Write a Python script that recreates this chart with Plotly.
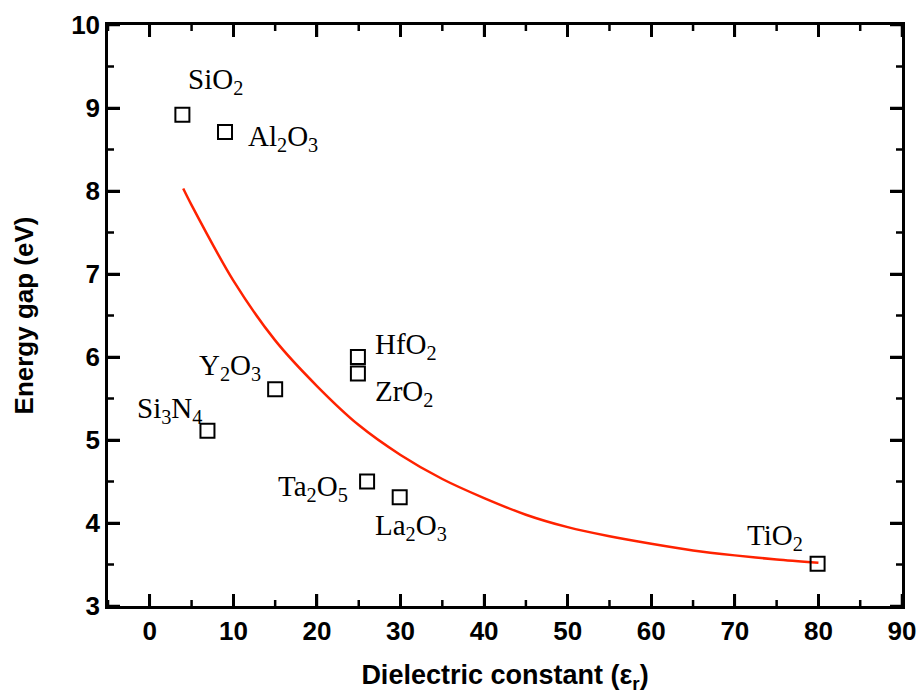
import plotly.graph_objects as go

# Oxide data points: dielectric constant vs band gap
materials = ["SiO<sub>2</sub>", "Al<sub>2</sub>O<sub>3</sub>", "Si<sub>3</sub>N<sub>4</sub>",
             "Y<sub>2</sub>O<sub>3</sub>", "HfO<sub>2</sub>", "ZrO<sub>2</sub>",
             "Ta<sub>2</sub>O<sub>5</sub>", "La<sub>2</sub>O<sub>3</sub>", "TiO<sub>2</sub>"]
k_values = [3.9, 9.0, 6.9, 15.0, 24.9, 24.9, 26.0, 29.9, 79.9]
gap_values = [8.92, 8.71, 5.11, 5.61, 6.0, 5.8, 4.5, 4.31, 3.51]

# Label placement (data coords) and anchors
label_x = [4.3, 11.5, 6.5, 13.6, 26.7, 26.7, 23.9, 26.7, 71.2]
label_y = [9.33, 8.64, 5.36, 5.88, 6.13, 5.57, 4.42, 3.95, 3.83]
label_anchor = ["left", "left", "right", "right", "left", "left", "right", "left", "left"]

# Red trend curve
curve_x = [4, 5, 10, 15, 20, 25, 30, 35, 40, 45, 50, 55, 60, 65, 70, 75, 80]
curve_y = [8.03, 7.83, 6.92, 6.2, 5.65, 5.18, 4.82, 4.53, 4.30, 4.10, 3.95, 3.84, 3.75, 3.67, 3.61, 3.56, 3.52]

# Axis ranges and tick positions
X_RANGE = [-5, 90]
Y_RANGE = [3, 10]
x_major = [0, 10, 20, 30, 40, 50, 60, 70, 80, 90]
x_minor = [-5, 5, 15, 25, 35, 45, 55, 65, 75, 85]
y_major = [3, 4, 5, 6, 7, 8, 9, 10]
y_minor = [3.5, 4.5, 5.5, 6.5, 7.5, 8.5, 9.5]

W, H = 919, 694
M = dict(l=108, r=17, t=25, b=88)
plot_w = W - M["l"] - M["r"]
plot_h = H - M["t"] - M["b"]
x_per_px = (X_RANGE[1] - X_RANGE[0]) / plot_w
y_per_px = (Y_RANGE[1] - Y_RANGE[0]) / plot_h

fig = go.Figure()
fig.add_trace(go.Scatter(x=curve_x, y=curve_y, mode="lines",
                         line=dict(color="#ff2200", width=2.5, shape="spline", smoothing=0.8),
                         showlegend=False, hoverinfo="skip"))
fig.add_trace(go.Scatter(x=k_values, y=gap_values, mode="markers",
                         marker=dict(symbol="square-open", size=14, color="black",
                                     line=dict(width=2, color="black")),
                         showlegend=False))

# Inside tick marks on all four sides, drawn as short line segments
tx, ty = [], []
for vals, length in ((x_major, 12), (x_minor, 6)):
    d = length * y_per_px
    for v in vals:
        tx += [v, v, None, v, v, None]
        ty += [Y_RANGE[0], Y_RANGE[0] + d, None, Y_RANGE[1], Y_RANGE[1] - d, None]
for vals, length in ((y_major, 12), (y_minor, 6)):
    d = length * x_per_px
    for v in vals:
        tx += [X_RANGE[0], X_RANGE[0] + d, None, X_RANGE[1], X_RANGE[1] - d, None]
        ty += [v, v, None, v, v, None]
fig.add_trace(go.Scatter(x=tx, y=ty, mode="lines", line=dict(color="black", width=2.5),
                         connectgaps=False, showlegend=False, hoverinfo="skip"))

for t, lx, ly, anc in zip(materials, label_x, label_y, label_anchor):
    fig.add_annotation(x=lx, y=ly, text=t, showarrow=False, xanchor=anc, yanchor="middle",
                       font=dict(family="Liberation Serif, Times New Roman, serif", size=29, color="black"))

tick_font = dict(family="Liberation Sans, Arial, sans-serif", size=26, color="black", weight="bold")

fig.update_layout(
    width=W, height=H,
    margin=dict(**M, autoexpand=False),
    plot_bgcolor="white", paper_bgcolor="white",
    xaxis=dict(range=X_RANGE, tickmode="array", tickvals=x_major,
               showline=True, linecolor="black", linewidth=2.5, mirror="ticks",
               ticks="inside", ticklen=12, tickwidth=2.5, tickcolor="black",
               showgrid=False, zeroline=False, tickfont=tick_font,
               title=dict(text="Dielectric constant (ε<sub>r</sub>)", standoff=27,
                          font=dict(family="Liberation Sans, Arial, sans-serif", size=27,
                                    color="black", weight="bold"))),
    yaxis=dict(range=Y_RANGE, tickmode="array", tickvals=y_major,
               showline=True, linecolor="black", linewidth=2.5, mirror="ticks",
               ticks="inside", ticklen=12, tickwidth=2.5, tickcolor="black",
               showgrid=False, zeroline=False, tickfont=tick_font,
               title=dict(text="Energy gap (eV)", standoff=31,
                          font=dict(family="Liberation Sans, Arial, sans-serif", size=26,
                                    color="black", weight="bold"))),
)

fig.write_html("out.html")
